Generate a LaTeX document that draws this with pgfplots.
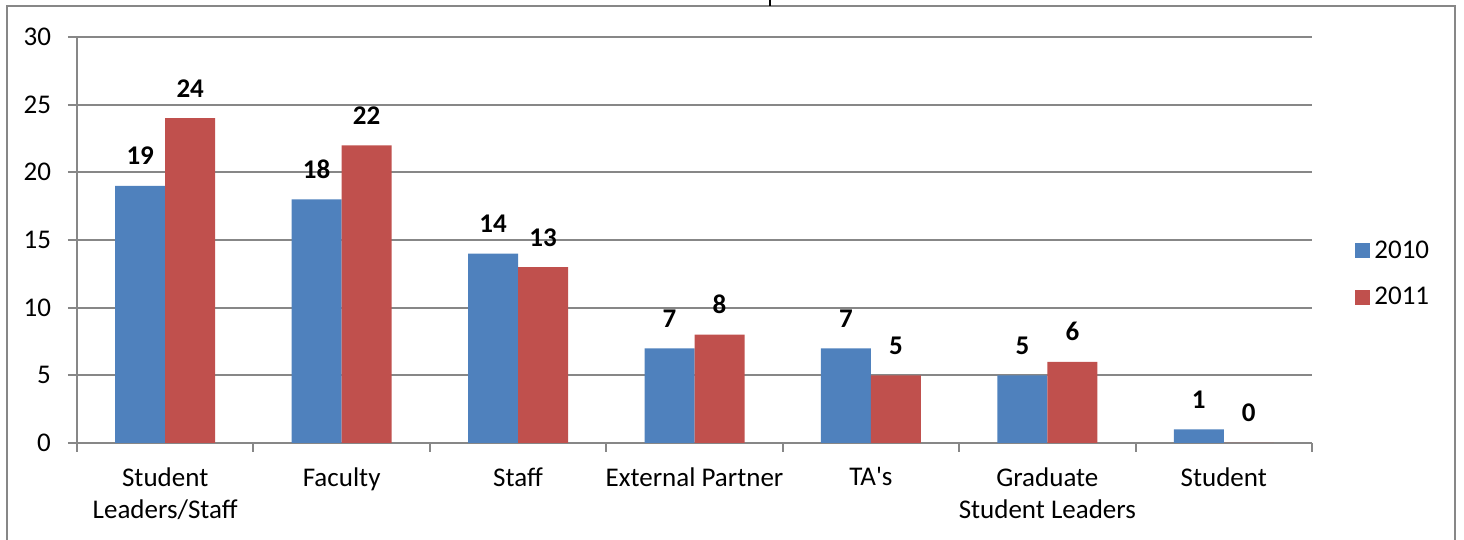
\documentclass[border=0pt]{standalone}
\usepackage{fontspec}
\setmainfont{Carlito}
\usepackage{pgfplots}
\usepackage{pgfplotstable}
\pgfplotsset{compat=1.18}

\definecolor{s2010}{HTML}{4F81BD}
\definecolor{s2011}{HTML}{C0504D}
\definecolor{gridgray}{HTML}{878787}
\newcommand\cf{\fontsize{13.5}{16}\selectfont}

% counts per group, 2010 vs 2011
\pgfplotstableread{
idx y2010 y2011
0 19 24
1 18 22
2 14 13
3 7 8
4 7 5
5 5 6
6 1 0
}\counts

\begin{document}
\begin{tikzpicture}[x=0.5pt,y=0.5pt,font=\cf]
\useasboundingbox (0,0) rectangle (1464,540);
\draw[gridgray, line width=1pt] (7,-20) -- (7,534) -- (1455,534) -- (1455,-20);
\draw[black, line width=1.2pt] (770,534) -- (770,541);
\begin{axis}[
  at={(38.5pt,48.5pt)}, anchor=south west,
  scale only axis, width=617.5pt, height=203pt,
  ybar=0pt, bar width=25pt,
  xmin=-0.5, xmax=6.5, ymin=0, ymax=30,
  xtick={0,...,6},
  xticklabels={{Student\\Leaders/Staff},Faculty,Staff,External Partner,TA\textquotesingle s,{Graduate\\Student Leaders},Student},
  minor xtick={-0.5,0.5,...,6.5},
  ytick={0,5,...,30},
  axis x line*=bottom, axis y line*=left,
  axis line style={gridgray, line width=1pt, -},
  ymajorgrids, major grid style={gridgray, line width=1pt},
  tick align=outside, major tick length=4.5pt, minor tick length=4.5pt,
  major x tick style={draw=none},
  minor x tick style={gridgray, line width=1pt},
  ytick style={gridgray, line width=1pt},
  /pgf/number format/assume math mode=true,
  yticklabel style={font=\cf, xshift=-5pt},
  xticklabel style={font=\cf, align=center, anchor=north, inner sep=0pt, yshift=-7.5pt},
  nodes near coords,
  every node near coord/.append style={font=\cf\bfseries, anchor=base, inner sep=0pt, yshift=10.5pt},
  legend image code/.code={\fill[#1] (0pt,-3.75pt) rectangle (7.5pt,3.75pt);},
  legend style={at={(1.0348,0.416)}, anchor=west, draw=none, fill=none, font=\cf,
    inner sep=0pt, row sep=9pt},
]
\addplot[fill=s2010, draw=none] table[x=idx, y=y2010] {\counts};
\addplot[fill=s2011, draw=none] table[x=idx, y=y2011] {\counts};
\legend{2010,2011}
\end{axis}
\end{tikzpicture}
\end{document}
